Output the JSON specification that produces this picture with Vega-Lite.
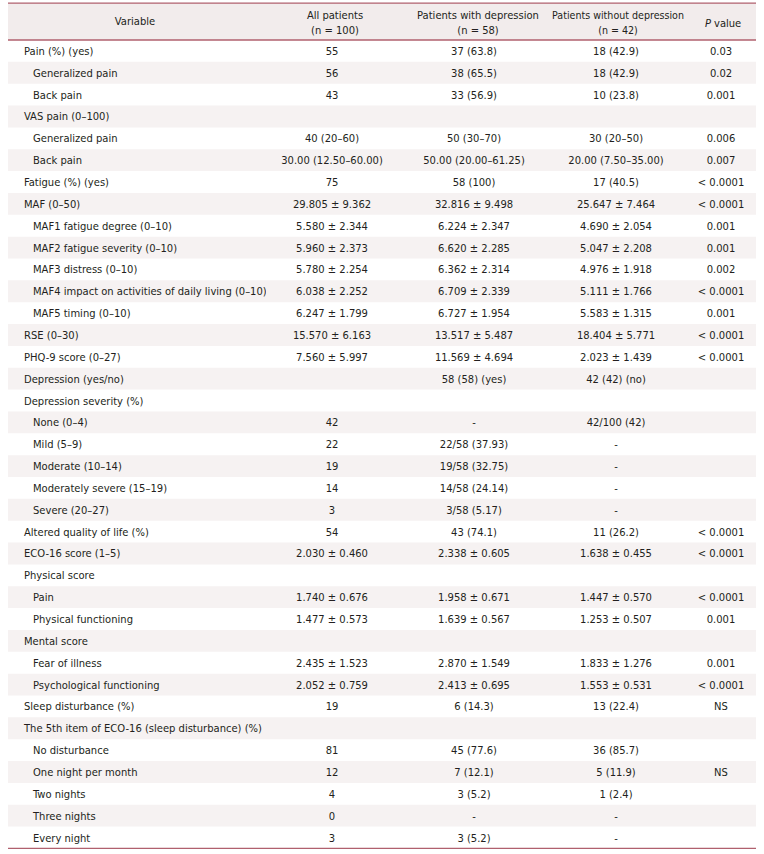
{
  "$schema": "https://vega.github.io/schema/vega-lite/v6.json",
  "padding": {"left": 7, "top": 0, "right": 9, "bottom": 0},
  "background": "white",
  "bounds": "flush",
  "config": {
    "view": {"stroke": null},
    "concat": {"spacing": 0},
    "text": {"font": "DejaVu Sans Condensed, sans-serif", "fontSize": 11.1, "color": "#231f20", "baseline": "middle", "dy": 1}
  },
  "datasets": {
    "rows": [
      {"row": 1, "label": "Pain (%) (yes)", "level": 0, "all": "55", "dep": "37 (63.8)", "nodep": "18 (42.9)", "p": "0.03"},
      {"row": 2, "label": "Generalized pain", "level": 1, "all": "56", "dep": "38 (65.5)", "nodep": "18 (42.9)", "p": "0.02"},
      {"row": 3, "label": "Back pain", "level": 1, "all": "43", "dep": "33 (56.9)", "nodep": "10 (23.8)", "p": "0.001"},
      {"row": 4, "label": "VAS pain (0–100)", "level": 0, "all": "", "dep": "", "nodep": "", "p": ""},
      {"row": 5, "label": "Generalized pain", "level": 1, "all": "40 (20–60)", "dep": "50 (30–70)", "nodep": "30 (20–50)", "p": "0.006"},
      {"row": 6, "label": "Back pain", "level": 1, "all": "30.00 (12.50–60.00)", "dep": "50.00 (20.00–61.25)", "nodep": "20.00 (7.50–35.00)", "p": "0.007"},
      {"row": 7, "label": "Fatigue (%) (yes)", "level": 0, "all": "75", "dep": "58 (100)", "nodep": "17 (40.5)", "p": "< 0.0001"},
      {"row": 8, "label": "MAF (0–50)", "level": 0, "all": "29.805 ± 9.362", "dep": "32.816 ± 9.498", "nodep": "25.647 ± 7.464", "p": "< 0.0001"},
      {"row": 9, "label": "MAF1 fatigue degree (0–10)", "level": 1, "all": "5.580 ± 2.344", "dep": "6.224 ± 2.347", "nodep": "4.690 ± 2.054", "p": "0.001"},
      {"row": 10, "label": "MAF2 fatigue severity (0–10)", "level": 1, "all": "5.960 ± 2.373", "dep": "6.620 ± 2.285", "nodep": "5.047 ± 2.208", "p": "0.001"},
      {"row": 11, "label": "MAF3 distress (0–10)", "level": 1, "all": "5.780 ± 2.254", "dep": "6.362 ± 2.314", "nodep": "4.976 ± 1.918", "p": "0.002"},
      {"row": 12, "label": "MAF4 impact on activities of daily living (0–10)", "level": 1, "all": "6.038 ± 2.252", "dep": "6.709 ± 2.339", "nodep": "5.111 ± 1.766", "p": "< 0.0001"},
      {"row": 13, "label": "MAF5 timing (0–10)", "level": 1, "all": "6.247 ± 1.799", "dep": "6.727 ± 1.954", "nodep": "5.583 ± 1.315", "p": "0.001"},
      {"row": 14, "label": "RSE (0–30)", "level": 0, "all": "15.570 ± 6.163", "dep": "13.517 ± 5.487", "nodep": "18.404 ± 5.771", "p": "< 0.0001"},
      {"row": 15, "label": "PHQ-9 score (0–27)", "level": 0, "all": "7.560 ± 5.997", "dep": "11.569 ± 4.694", "nodep": "2.023 ± 1.439", "p": "< 0.0001"},
      {"row": 16, "label": "Depression (yes/no)", "level": 0, "all": "", "dep": "58 (58) (yes)", "nodep": "42 (42) (no)", "p": ""},
      {"row": 17, "label": "Depression severity (%)", "level": 0, "all": "", "dep": "", "nodep": "", "p": ""},
      {"row": 18, "label": "None (0–4)", "level": 1, "all": "42", "dep": "-", "nodep": "42/100 (42)", "p": ""},
      {"row": 19, "label": "Mild (5–9)", "level": 1, "all": "22", "dep": "22/58 (37.93)", "nodep": "-", "p": ""},
      {"row": 20, "label": "Moderate (10–14)", "level": 1, "all": "19", "dep": "19/58 (32.75)", "nodep": "-", "p": ""},
      {"row": 21, "label": "Moderately severe (15–19)", "level": 1, "all": "14", "dep": "14/58 (24.14)", "nodep": "-", "p": ""},
      {"row": 22, "label": "Severe (20–27)", "level": 1, "all": "3", "dep": "3/58 (5.17)", "nodep": "-", "p": ""},
      {"row": 23, "label": "Altered quality of life (%)", "level": 0, "all": "54", "dep": "43 (74.1)", "nodep": "11 (26.2)", "p": "< 0.0001"},
      {"row": 24, "label": "ECO-16 score (1–5)", "level": 0, "all": "2.030 ± 0.460", "dep": "2.338 ± 0.605", "nodep": "1.638 ± 0.455", "p": "< 0.0001"},
      {"row": 25, "label": "Physical score", "level": 0, "all": "", "dep": "", "nodep": "", "p": ""},
      {"row": 26, "label": "Pain", "level": 1, "all": "1.740 ± 0.676", "dep": "1.958 ± 0.671", "nodep": "1.447 ± 0.570", "p": "< 0.0001"},
      {"row": 27, "label": "Physical functioning", "level": 1, "all": "1.477 ± 0.573", "dep": "1.639 ± 0.567", "nodep": "1.253 ± 0.507", "p": "0.001"},
      {"row": 28, "label": "Mental score", "level": 0, "all": "", "dep": "", "nodep": "", "p": ""},
      {"row": 29, "label": "Fear of illness", "level": 1, "all": "2.435 ± 1.523", "dep": "2.870 ± 1.549", "nodep": "1.833 ± 1.276", "p": "0.001"},
      {"row": 30, "label": "Psychological functioning", "level": 1, "all": "2.052 ± 0.759", "dep": "2.413 ± 0.695", "nodep": "1.553 ± 0.531", "p": "< 0.0001"},
      {"row": 31, "label": "Sleep disturbance (%)", "level": 0, "all": "19", "dep": "6 (14.3)", "nodep": "13 (22.4)", "p": "NS"},
      {"row": 32, "label": "The 5th item of ECO-16 (sleep disturbance) (%)", "level": 0, "all": "", "dep": "", "nodep": "", "p": ""},
      {"row": 33, "label": "No disturbance", "level": 1, "all": "81", "dep": "45 (77.6)", "nodep": "36 (85.7)", "p": ""},
      {"row": 34, "label": "One night per month", "level": 1, "all": "12", "dep": "7 (12.1)", "nodep": "5 (11.9)", "p": "NS"},
      {"row": 35, "label": "Two nights", "level": 1, "all": "4", "dep": "3 (5.2)", "nodep": "1 (2.4)", "p": ""},
      {"row": 36, "label": "Three nights", "level": 1, "all": "0", "dep": "-", "nodep": "-", "p": ""},
      {"row": 37, "label": "Every night", "level": 1, "all": "3", "dep": "3 (5.2)", "nodep": "-", "p": ""}
    ]
  },
  "spacing": 0,
  "hconcat": [
    {
      "width": 258, "height": 854,
      "layer": [
        {"data": {"values": [{}]}, "mark": {"type": "rect", "color": "#f2ecec"}, "encoding": {"y": {"datum": -1.19, "type": "quantitative", "scale": {"domain": [-1.3307, 37.754], "reverse": true, "nice": false, "zero": false}, "axis": null}, "y2": {"datum": 0.5}}},
        {"data": {"name": "rows"}, "transform": [{"filter": "datum.row % 2 == 0"}, {"calculate": "datum.row - 0.5", "as": "top"}, {"calculate": "datum.row + 0.5", "as": "bottom"}], "mark": {"type": "rect", "color": "#f6f2f2"}, "encoding": {"y": {"field": "top", "type": "quantitative", "axis": null}, "y2": {"field": "bottom"}}},
        {"data": {"values": [{}]}, "mark": {"type": "rule", "stroke": "#b0606e", "strokeWidth": 1.3}, "encoding": {"y": {"datum": -1.19, "type": "quantitative"}}},
        {"data": {"values": [{}]}, "mark": {"type": "rule", "stroke": "#b0606e", "strokeWidth": 1.3}, "encoding": {"y": {"datum": 0.5, "type": "quantitative"}}},
        {"data": {"values": [{}]}, "mark": {"type": "rule", "stroke": "#b0606e", "strokeWidth": 1.3}, "encoding": {"y": {"datum": 37.5, "type": "quantitative"}}},
        {"data": {"values": [{}]}, "mark": {"type": "text", "text": "Variable", "dx": -2}, "encoding": {"y": {"datum": -0.347, "type": "quantitative"}}},
        {"data": {"name": "rows"}, "mark": {"type": "text", "align": "left"}, "encoding": {
          "y": {"field": "row", "type": "quantitative"},
          "x": {"field": "level", "type": "ordinal", "scale": {"type": "point", "domain": [0, 1], "range": [16, 25], "padding": 0}, "axis": null},
          "text": {"field": "label"}}}
      ]
    },
    {
      "width": 136, "height": 854,
      "layer": [
        {"data": {"values": [{}]}, "mark": {"type": "rect", "color": "#f2ecec"}, "encoding": {"y": {"datum": -1.19, "type": "quantitative", "scale": {"domain": [-1.3307, 37.754], "reverse": true, "nice": false, "zero": false}, "axis": null}, "y2": {"datum": 0.5}}},
        {"data": {"name": "rows"}, "transform": [{"filter": "datum.row % 2 == 0"}, {"calculate": "datum.row - 0.5", "as": "top"}, {"calculate": "datum.row + 0.5", "as": "bottom"}], "mark": {"type": "rect", "color": "#f6f2f2"}, "encoding": {"y": {"field": "top", "type": "quantitative", "axis": null}, "y2": {"field": "bottom"}}},
        {"data": {"values": [{}]}, "mark": {"type": "rule", "stroke": "#b0606e", "strokeWidth": 1.3}, "encoding": {"y": {"datum": -1.19, "type": "quantitative"}}},
        {"data": {"values": [{}]}, "mark": {"type": "rule", "stroke": "#b0606e", "strokeWidth": 1.3}, "encoding": {"y": {"datum": 0.5, "type": "quantitative"}}},
        {"data": {"values": [{}]}, "mark": {"type": "rule", "stroke": "#b0606e", "strokeWidth": 1.3}, "encoding": {"y": {"datum": 37.5, "type": "quantitative"}}},
        {"data": {"values": [{}]}, "mark": {"type": "text", "text": "All patients\n(n = 100)", "lineBreak": "\n", "lineHeight": 15, "dx": 1}, "encoding": {"y": {"datum": -0.667, "type": "quantitative"}}},
        {"data": {"name": "rows"}, "mark": {"type": "text", "dx": -2}, "encoding": {"y": {"field": "row", "type": "quantitative"}, "text": {"field": "all"}}}
      ]
    },
    {
      "width": 144, "height": 854,
      "layer": [
        {"data": {"values": [{}]}, "mark": {"type": "rect", "color": "#f2ecec"}, "encoding": {"y": {"datum": -1.19, "type": "quantitative", "scale": {"domain": [-1.3307, 37.754], "reverse": true, "nice": false, "zero": false}, "axis": null}, "y2": {"datum": 0.5}}},
        {"data": {"name": "rows"}, "transform": [{"filter": "datum.row % 2 == 0"}, {"calculate": "datum.row - 0.5", "as": "top"}, {"calculate": "datum.row + 0.5", "as": "bottom"}], "mark": {"type": "rect", "color": "#f6f2f2"}, "encoding": {"y": {"field": "top", "type": "quantitative", "axis": null}, "y2": {"field": "bottom"}}},
        {"data": {"values": [{}]}, "mark": {"type": "rule", "stroke": "#b0606e", "strokeWidth": 1.3}, "encoding": {"y": {"datum": -1.19, "type": "quantitative"}}},
        {"data": {"values": [{}]}, "mark": {"type": "rule", "stroke": "#b0606e", "strokeWidth": 1.3}, "encoding": {"y": {"datum": 0.5, "type": "quantitative"}}},
        {"data": {"values": [{}]}, "mark": {"type": "rule", "stroke": "#b0606e", "strokeWidth": 1.3}, "encoding": {"y": {"datum": 37.5, "type": "quantitative"}}},
        {"data": {"values": [{}]}, "mark": {"type": "text", "text": "Patients with depression\n(n = 58)", "lineBreak": "\n", "lineHeight": 15, "dx": 4}, "encoding": {"y": {"datum": -0.667, "type": "quantitative"}}},
        {"data": {"name": "rows"}, "mark": {"type": "text"}, "encoding": {"y": {"field": "row", "type": "quantitative"}, "text": {"field": "dep"}}}
      ]
    },
    {
      "width": 140, "height": 854,
      "layer": [
        {"data": {"values": [{}]}, "mark": {"type": "rect", "color": "#f2ecec"}, "encoding": {"y": {"datum": -1.19, "type": "quantitative", "scale": {"domain": [-1.3307, 37.754], "reverse": true, "nice": false, "zero": false}, "axis": null}, "y2": {"datum": 0.5}}},
        {"data": {"name": "rows"}, "transform": [{"filter": "datum.row % 2 == 0"}, {"calculate": "datum.row - 0.5", "as": "top"}, {"calculate": "datum.row + 0.5", "as": "bottom"}], "mark": {"type": "rect", "color": "#f6f2f2"}, "encoding": {"y": {"field": "top", "type": "quantitative", "axis": null}, "y2": {"field": "bottom"}}},
        {"data": {"values": [{}]}, "mark": {"type": "rule", "stroke": "#b0606e", "strokeWidth": 1.3}, "encoding": {"y": {"datum": -1.19, "type": "quantitative"}}},
        {"data": {"values": [{}]}, "mark": {"type": "rule", "stroke": "#b0606e", "strokeWidth": 1.3}, "encoding": {"y": {"datum": 0.5, "type": "quantitative"}}},
        {"data": {"values": [{}]}, "mark": {"type": "rule", "stroke": "#b0606e", "strokeWidth": 1.3}, "encoding": {"y": {"datum": 37.5, "type": "quantitative"}}},
        {"data": {"values": [{}]}, "mark": {"type": "text", "text": "Patients without depression\n(n = 42)", "lineBreak": "\n", "lineHeight": 15, "dx": 2, "fontSize": 10.6}, "encoding": {"y": {"datum": -0.667, "type": "quantitative"}}},
        {"data": {"name": "rows"}, "mark": {"type": "text"}, "encoding": {"y": {"field": "row", "type": "quantitative"}, "text": {"field": "nodep"}}}
      ]
    },
    {
      "width": 70, "height": 854,
      "layer": [
        {"data": {"values": [{}]}, "mark": {"type": "rect", "color": "#f2ecec"}, "encoding": {"y": {"datum": -1.19, "type": "quantitative", "scale": {"domain": [-1.3307, 37.754], "reverse": true, "nice": false, "zero": false}, "axis": null}, "y2": {"datum": 0.5}}},
        {"data": {"name": "rows"}, "transform": [{"filter": "datum.row % 2 == 0"}, {"calculate": "datum.row - 0.5", "as": "top"}, {"calculate": "datum.row + 0.5", "as": "bottom"}], "mark": {"type": "rect", "color": "#f6f2f2"}, "encoding": {"y": {"field": "top", "type": "quantitative", "axis": null}, "y2": {"field": "bottom"}}},
        {"data": {"values": [{}]}, "mark": {"type": "rule", "stroke": "#b0606e", "strokeWidth": 1.3}, "encoding": {"y": {"datum": -1.19, "type": "quantitative"}}},
        {"data": {"values": [{}]}, "mark": {"type": "rule", "stroke": "#b0606e", "strokeWidth": 1.3}, "encoding": {"y": {"datum": 0.5, "type": "quantitative"}}},
        {"data": {"values": [{}]}, "mark": {"type": "rule", "stroke": "#b0606e", "strokeWidth": 1.3}, "encoding": {"y": {"datum": 37.5, "type": "quantitative"}}},
        {"data": {"values": [{}]}, "mark": {"type": "text", "text": "P", "fontStyle": "italic", "align": "right", "dx": -10}, "encoding": {"y": {"datum": -0.3, "type": "quantitative"}}},
        {"data": {"values": [{}]}, "mark": {"type": "text", "text": "value", "align": "left", "dx": -7}, "encoding": {"y": {"datum": -0.3, "type": "quantitative"}}},
        {"data": {"name": "rows"}, "mark": {"type": "text"}, "encoding": {"y": {"field": "row", "type": "quantitative"}, "text": {"field": "p"}}}
      ]
    }
  ]
}
